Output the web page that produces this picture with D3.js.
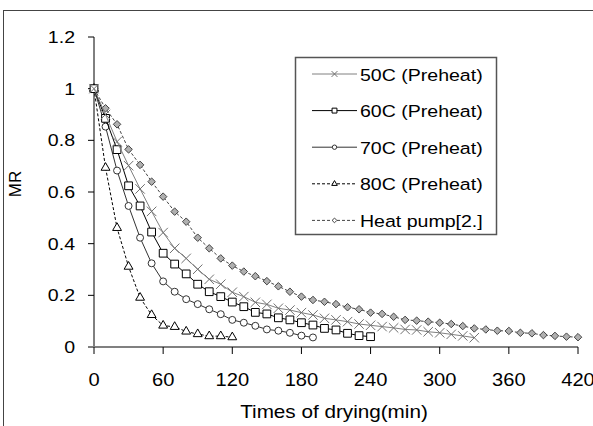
<!DOCTYPE html>
<html><head><meta charset="utf-8">
<script src="https://cdn.jsdelivr.net/npm/d3@7"></script>
<style>body{margin:0;background:#fff}svg{display:block}text{font-family:"Liberation Sans",Arial,sans-serif;fill:#000}</style>
</head><body><svg id="c" width="593" height="426"></svg>
<script>
const xTicks = [0, 60, 120, 180, 240, 300, 360, 420];
const yTicks = [0, 0.2, 0.4, 0.6, 0.8, 1, 1.2];
const yTickLabels = ["0", "0.2", "0.4", "0.6", "0.8", "1", "1.2"];
const seriesNames = ["50C (Preheat)", "60C (Preheat)", "70C (Preheat)", "80C (Preheat)", "Heat pump[2.]"];
const t50 = d3.range(0, 331, 10);
const v50 = [1, 0.9, 0.795, 0.702, 0.612, 0.525, 0.443, 0.382, 0.343, 0.301, 0.262, 0.243, 0.212, 0.195, 0.173, 0.165, 0.150, 0.143, 0.133, 0.124, 0.111, 0.105, 0.098, 0.089, 0.084, 0.079, 0.074, 0.068, 0.066, 0.059, 0.055, 0.049, 0.043, 0.036];
const t60 = d3.range(0, 241, 10);
const v60 = [1, 0.885, 0.764, 0.624, 0.546, 0.445, 0.363, 0.321, 0.283, 0.243, 0.214, 0.195, 0.174, 0.156, 0.134, 0.128, 0.113, 0.105, 0.094, 0.085, 0.072, 0.066, 0.053, 0.044, 0.040];
const t70 = d3.range(0, 191, 10);
const v70 = [1, 0.853, 0.683, 0.546, 0.423, 0.324, 0.254, 0.214, 0.185, 0.166, 0.146, 0.127, 0.105, 0.094, 0.082, 0.068, 0.063, 0.055, 0.044, 0.037];
const t80 = d3.range(0, 121, 10);
const v80 = [1, 0.694, 0.461, 0.311, 0.191, 0.124, 0.083, 0.078, 0.060, 0.050, 0.042, 0.042, 0.038];
const tHP = d3.range(0, 421, 10);
const vHP = [1, 0.924, 0.862, 0.765, 0.705, 0.640, 0.582, 0.524, 0.485, 0.423, 0.382, 0.343, 0.315, 0.292, 0.274, 0.255, 0.235, 0.214, 0.195, 0.182, 0.175, 0.166, 0.154, 0.146, 0.133, 0.128, 0.117, 0.105, 0.102, 0.098, 0.094, 0.089, 0.081, 0.072, 0.068, 0.063, 0.062, 0.055, 0.053, 0.046, 0.043, 0.040, 0.038];

const svg = d3.select("#c");
const SX = 1.15;
const x = d3.scaleLinear().domain([0, 420]).range([94, 578]);
const y = d3.scaleLinear().domain([0, 1.2]).range([347, 37]);

function txt(g, s, px, py, size, anchor) {
  return g.append("text").attr("transform", `translate(${px},${py}) scale(${SX},1)`)
    .attr("text-anchor", anchor).attr("font-size", size).text(s);
}

// outer border
svg.append("rect").attr("x", 3.5).attr("y", 10.5).attr("width", 700).attr("height", 500)
  .attr("fill", "none").attr("stroke", "#444").attr("stroke-width", 1);

// y axis
const ya = svg.append("g");
ya.append("line").attr("x1", 94).attr("x2", 94).attr("y1", y(1.2)).attr("y2", y(0)).attr("stroke", "#000");
yTicks.forEach((v, i) => {
  ya.append("line").attr("x1", 88).attr("x2", 94).attr("y1", y(v)).attr("y2", y(v)).attr("stroke", "#000");
  txt(ya, yTickLabels[i], 75, y(v) + 6, 17, "end");
});
// x axis
const xa = svg.append("g");
xa.append("line").attr("x1", x(0) - 3).attr("x2", x(420)).attr("y1", y(0)).attr("y2", y(0)).attr("stroke", "#808080").attr("stroke-width", 2);
xTicks.forEach(t => {
  xa.append("line").attr("x1", x(t)).attr("x2", x(t)).attr("y1", y(0)).attr("y2", y(0) + 7).attr("stroke", "#000");
  txt(xa, String(t), x(t), 386, 17.5, "middle");
});
txt(svg, "Times of drying(min)", 334, 418, 18, "middle");
svg.append("text").attr("transform", "translate(21,184) rotate(-90)").attr("text-anchor", "middle")
  .attr("font-size", 17).text("MR");

const series = [
  {t: t50, v: v50, sym: d3.symbolTimes, size: 60, line: "#808080", dash: null, mStroke: "#707070", mFill: "none"},
  {t: t60, v: v60, sym: d3.symbolSquare, size: 60, line: "#000", dash: null, mStroke: "#000", mFill: "#fff"},
  {t: t70, v: v70, sym: d3.symbolCircle, size: 38, line: "#333", dash: null, mStroke: "#333", mFill: "#fff"},
  {t: t80, v: v80, sym: d3.symbolTriangle, size: 34, line: "#000", dash: "3,2", mStroke: "#000", mFill: "#fff"},
  {t: tHP, v: vHP, sym: d3.symbolDiamond2, size: 36, line: "#444", dash: "3,2", mStroke: "#444", mFill: "#b0b0b0"}
];
const lineGen = d3.line().x(d => x(d[0])).y(d => y(d[1]));
const plot = svg.append("g");
series.slice().reverse().forEach(s => {
  const pts = s.t.map((t, i) => [t, s.v[i]]);
  plot.append("path").attr("d", lineGen(pts)).attr("fill", "none").attr("stroke", s.line)
    .attr("stroke-width", 1).attr("stroke-dasharray", s.dash);
  plot.selectAll(null).data(pts).enter().append("path")
    .attr("transform", d => `translate(${x(d[0])},${y(d[1])})`)
    .attr("d", d3.symbol().type(s.sym).size(s.size))
    .attr("fill", s.mFill).attr("stroke", s.mStroke).attr("stroke-width", 1);
});

// legend
const lg = svg.append("g");
lg.append("rect").attr("x", 295.5).attr("y", 57.5).attr("width", 201).attr("height", 177)
  .attr("fill", "#fff").attr("stroke", "#555").attr("stroke-width", 1.5);
series.forEach((s, i) => {
  const cy = 74 + i * 36.6;
  lg.append("line").attr("x1", 312).attr("x2", 357).attr("y1", cy).attr("y2", cy)
    .attr("stroke", s.line).attr("stroke-width", 1).attr("stroke-dasharray", s.dash);
  lg.append("path").attr("transform", `translate(334.5,${cy})`)
    .attr("d", d3.symbol().type(s.sym).size(s.size * 0.4))
    .attr("fill", s.mFill === "none" ? "none" : "#fff").attr("stroke", s.mStroke).attr("stroke-width", 1);
  txt(lg, seriesNames[i], 360, cy + 6.5, 17, "start");
});
</script></body></html>
